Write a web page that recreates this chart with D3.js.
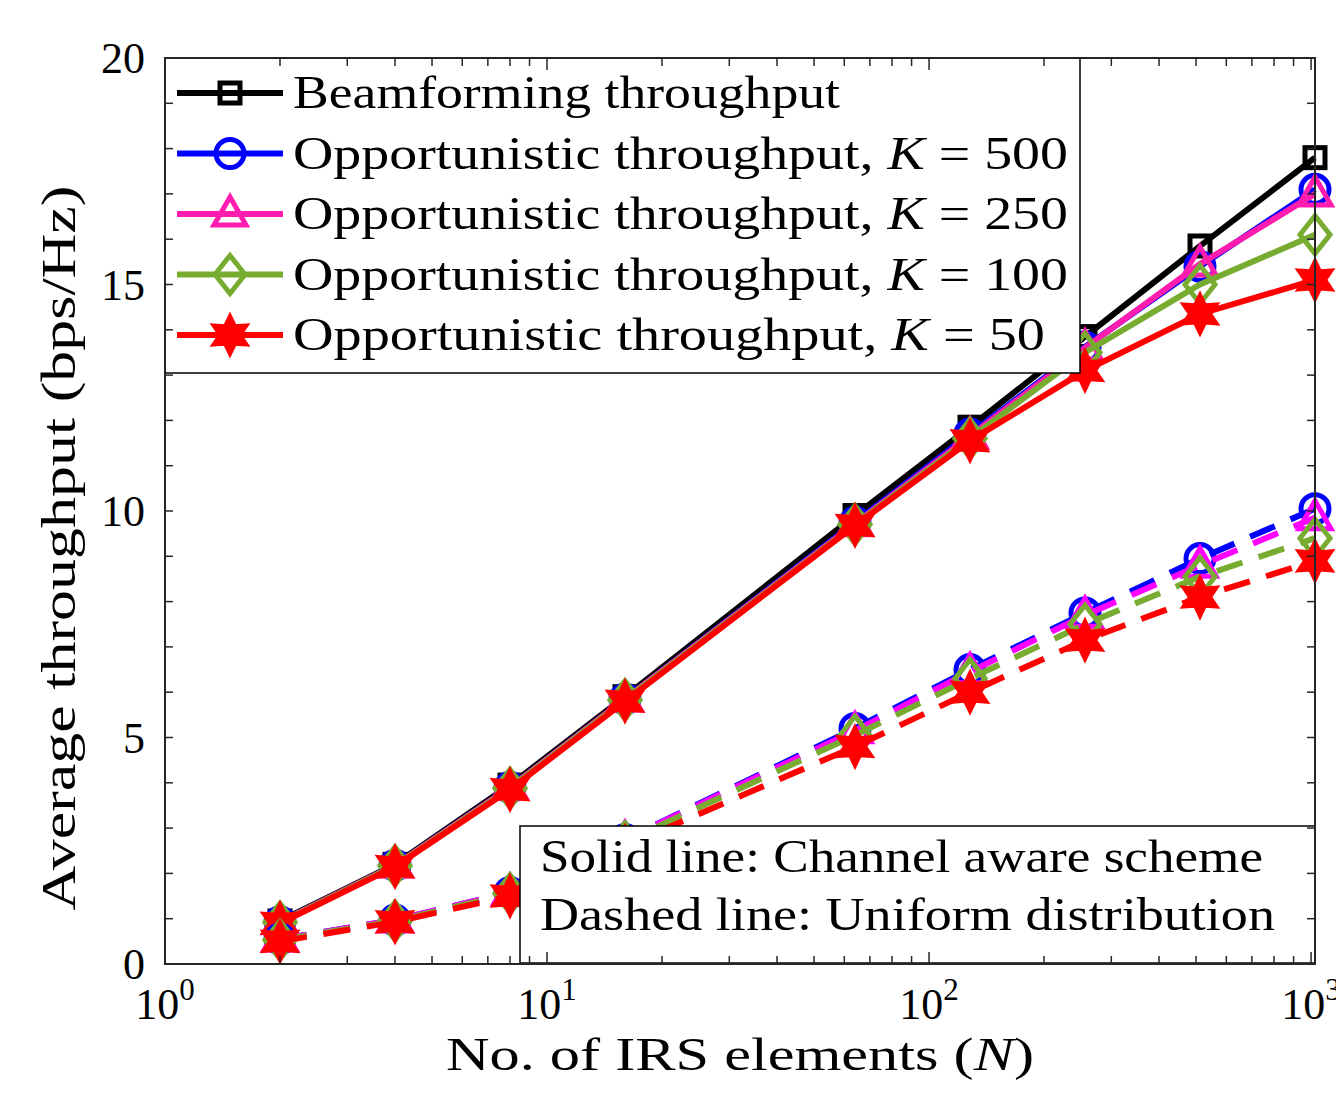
<!DOCTYPE html>
<html>
<head>
<meta charset="utf-8">
<script src="https://cdn.jsdelivr.net/npm/d3@7"></script>
<style>
  body { margin: 0; background: #fff; }
  text { font-family: "Liberation Serif", "Times New Roman", serif; fill: #000; }
</style>
</head>
<body>
<div id="chart"></div>
<script>
// number of IRS elements N
var elements = [2, 4, 8, 16, 64, 128, 256, 512, 1024];

// channel aware scheme (solid)
var beamSolid = [0.95, 2.2, 3.95, 5.9, 9.9, 11.85, 13.85, 15.85, 17.8];
var k500Solid = [0.93, 2.18, 3.9, 5.85, 9.75, 11.7, 13.62, 15.4, 17.1];
var k250Solid = [0.93, 2.18, 3.9, 5.85, 9.72, 11.65, 13.6, 15.45, 17.0];
var k100Solid = [0.92, 2.17, 3.88, 5.83, 9.7, 11.6, 13.5, 15.0, 16.1];
var k50Solid = [0.9, 2.15, 3.85, 5.8, 9.68, 11.55, 13.1, 14.35, 15.1];

// uniform distribution (dashed)
var k500Dash = [0.55, 0.97, 1.58, 2.75, 5.2, 6.5, 7.75, 8.95, 10.05];
var k250Dash = [0.55, 0.97, 1.58, 2.75, 5.15, 6.45, 7.7, 8.8, 9.85];
var k100Dash = [0.53, 0.95, 1.55, 2.7, 5.05, 6.3, 7.5, 8.55, 9.4];
var k50Dash = [0.5, 0.93, 1.5, 2.6, 4.8, 6.0, 7.15, 8.1, 8.9];

var yTicks = [0, 5, 10, 15, 20];
var xTickExp = [0, 1, 2, 3];

var legendLabels = [
  {main: "Beamforming throughput", k: null},
  {main: "Opportunistic throughput, ", k: "500"},
  {main: "Opportunistic throughput, ", k: "250"},
  {main: "Opportunistic throughput, ", k: "100"},
  {main: "Opportunistic throughput, ", k: "50"}
];
var noteLines = ["Solid line: Channel aware scheme", "Dashed line: Uniform distribution"];

var W = 1336, H = 1106;
var margin = {top: 58, right: 21, bottom: 142, left: 165};
var pw = W - margin.left - margin.right,
    ph = H - margin.top - margin.bottom;

var x = d3.scaleLog().domain([1, 1024]).range([0, pw]);
var y = d3.scaleLinear().domain([0, 20]).range([ph, 0]);

var svg = d3.select("#chart").append("svg")
    .attr("width", W).attr("height", H);
var g = svg.append("g")
    .attr("transform", "translate(" + margin.left + "," + margin.top + ")");

var line = d3.line()
    .x(function(d, i) { return x(elements[i]); })
    .y(function(d) { return y(d); });

var hex = (function() {
  var pts = [];
  for (var i = 0; i < 12; i++) {
    var a = -Math.PI / 2 + i * Math.PI / 6;
    var r = i % 2 === 0 ? 19 : 10;
    pts.push([r * Math.cos(a), r * Math.sin(a)]);
  }
  return "M" + pts.join("L") + "Z";
})();

function drawMarker(sel, type, color) {
  if (type === "square") {
    sel.append("rect").attr("x", -10).attr("y", -10).attr("width", 20).attr("height", 20)
      .attr("fill", "none").attr("stroke", color).attr("stroke-width", 5);
  } else if (type === "circle") {
    sel.append("circle").attr("r", 14)
      .attr("fill", "none").attr("stroke", color).attr("stroke-width", 5);
  } else if (type === "triangle") {
    sel.append("path").attr("d", "M0,-17L16,11L-16,11Z")
      .attr("fill", "none").attr("stroke", color).attr("stroke-width", 5);
  } else if (type === "diamond") {
    sel.append("path").attr("d", "M0,-19L15,0L0,19L-15,0Z")
      .attr("fill", "none").attr("stroke", color).attr("stroke-width", 5);
  } else if (type === "hexagram") {
    sel.append("path").attr("d", hex)
      .attr("fill", color).attr("stroke", color).attr("stroke-width", 4)
      .attr("stroke-linejoin", "miter");
  }
}

var series = [
  {data: beamSolid, color: "#000000", marker: "square", dash: null},
  {data: k500Solid, color: "#0000FF", marker: "circle", dash: null},
  {data: k250Solid, color: "#FF1CAE", marker: "triangle", dash: null},
  {data: k100Solid, color: "#77AC30", marker: "diamond", dash: null},
  {data: k50Solid, color: "#FF0000", marker: "hexagram", dash: null},
  {data: k500Dash, color: "#0000FF", marker: "circle", dash: "27,17"},
  {data: k250Dash, color: "#FF00FF", marker: "triangle", dash: "27,17"},
  {data: k100Dash, color: "#77AC30", marker: "diamond", dash: "27,17"},
  {data: k50Dash, color: "#FF0000", marker: "hexagram", dash: "27,17"}
];

series.forEach(function(s) {
  g.append("path")
    .datum(s.data)
    .attr("d", line)
    .attr("fill", "none")
    .attr("stroke", s.color)
    .attr("stroke-width", 6)
    .attr("stroke-dasharray", s.dash);
  g.selectAll(null)
    .data(s.data)
    .enter().append("g")
      .attr("transform", function(d, i) { return "translate(" + x(elements[i]) + "," + y(d) + ")"; })
      .each(function() { drawMarker(d3.select(this), s.marker, s.color); });
});

// legend
var leg = g.append("g");
leg.append("rect")
  .attr("x", 0).attr("y", 0).attr("width", 915).attr("height", 315)
  .attr("fill", "#fff").attr("stroke", "#000").attr("stroke-width", 1.5);
var legWidths = [547, 775, 775, 775, 752];
legendLabels.forEach(function(l, i) {
  var s = series[i];
  var cy = 35 + i * 60.5;
  var row = leg.append("g");
  row.append("line").attr("x1", 12).attr("x2", 118).attr("y1", cy).attr("y2", cy)
    .attr("stroke", s.color).attr("stroke-width", 6);
  var m = row.append("g").attr("transform", "translate(65," + cy + ")");
  drawMarker(m, s.marker, s.color);
  var t = row.append("text")
    .attr("x", 128).attr("y", cy + 15)
    .style("font-size", "47px")
    .attr("textLength", legWidths[i])
    .attr("lengthAdjust", "spacingAndGlyphs");
  t.append("tspan").text(l.main);
  if (l.k) {
    t.append("tspan").style("font-style", "italic").text("K");
    t.append("tspan").text(" = " + l.k);
  }
});

// note box
var note = g.append("g").attr("transform", "translate(" + (520 - margin.left) + "," + (826 - margin.top) + ")");
note.append("rect")
  .attr("x", 0).attr("y", 0).attr("width", 1315 - 520).attr("height", 963 - 826)
  .attr("fill", "#fff").attr("stroke", "#000").attr("stroke-width", 1.5);
var noteWidths = [723, 735];
noteLines.forEach(function(t, i) {
  note.append("text")
    .attr("x", 20).attr("y", 46 + i * 58)
    .style("font-size", "46px")
    .attr("textLength", noteWidths[i])
    .attr("lengthAdjust", "spacingAndGlyphs")
    .text(t);
});

// axes (box with inward ticks)
var axisColor = "#262626";
var ax = g.append("g");
var xMinor = [];
[1, 10, 100, 1000].forEach(function(dec) {
  for (var k = 2; k <= 9; k++) if (dec * k <= 1024) xMinor.push(dec * k);
});
var xMajor = xTickExp.map(function(e) { return Math.pow(10, e); });
var yMinor = d3.range(0, 21);

function ticks(vals, scale, horiz, len) {
  vals.forEach(function(v) {
    var p = scale(v);
    if (horiz) {
      ax.append("line").attr("x1", p).attr("x2", p).attr("y1", ph).attr("y2", ph - len)
        .attr("stroke", axisColor).attr("stroke-width", 1.5);
      ax.append("line").attr("x1", p).attr("x2", p).attr("y1", 0).attr("y2", len)
        .attr("stroke", axisColor).attr("stroke-width", 1.5);
    } else {
      ax.append("line").attr("x1", 0).attr("x2", len).attr("y1", p).attr("y2", p)
        .attr("stroke", axisColor).attr("stroke-width", 1.5);
      ax.append("line").attr("x1", pw).attr("x2", pw - len).attr("y1", p).attr("y2", p)
        .attr("stroke", axisColor).attr("stroke-width", 1.5);
    }
  });
}
ticks(xMinor, x, true, 8);
ticks(xMajor, x, true, 12);
ticks(yMinor, y, false, 8);

ax.append("rect").attr("x", 0).attr("y", 0).attr("width", pw).attr("height", ph)
  .attr("fill", "none").attr("stroke", axisColor).attr("stroke-width", 2);

// tick labels
g.selectAll(".ylab").data(yTicks).enter().append("text")
  .attr("x", -20).attr("y", function(d) { return y(d) + 15; })
  .attr("text-anchor", "end").style("font-size", "44px")
  .text(function(d) { return d; });

g.selectAll(".xlab").data(xTickExp).enter().append("text")
  .attr("x", function(d) { return x(Math.pow(10, d)); })
  .attr("y", ph + 55)
  .attr("text-anchor", "middle").style("font-size", "44px")
  .each(function(d) {
    var t = d3.select(this);
    t.append("tspan").text("10");
    t.append("tspan").attr("dy", -19).style("font-size", "31px").text(d);
  });

// axis titles
svg.append("text")
  .attr("x", 740).attr("y", 1070)
  .attr("text-anchor", "middle").style("font-size", "47px")
  .attr("textLength", 588).attr("lengthAdjust", "spacingAndGlyphs")
  .call(function(t) {
    t.append("tspan").text("No. of IRS elements (");
    t.append("tspan").style("font-style", "italic").text("N");
    t.append("tspan").text(")");
  });

svg.append("text")
  .attr("transform", "translate(75,548) rotate(-90)")
  .attr("text-anchor", "middle").style("font-size", "48px")
  .attr("textLength", 725).attr("lengthAdjust", "spacingAndGlyphs")
  .text("Average throughput (bps/Hz)");
</script>
</body>
</html>
